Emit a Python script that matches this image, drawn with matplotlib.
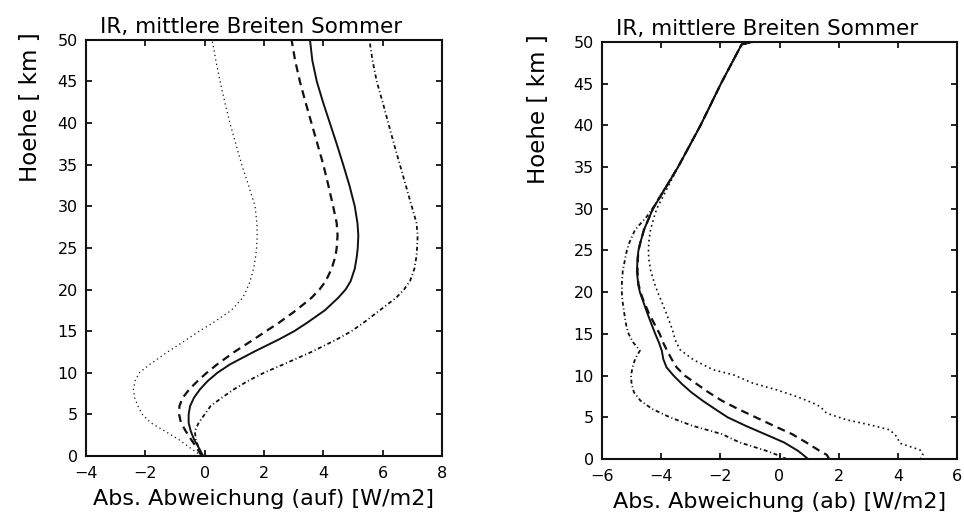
import numpy as np
import matplotlib.pyplot as plt

plt.rcParams["font.family"] = "DejaVu Sans"
plt.rcParams["font.size"] = 11.5
plt.rcParams["axes.linewidth"] = 1.5

titel = "IR, mittlere Breiten Sommer"
y_label = "Hoehe [ km ]"
x_label_auf = "Abs. Abweichung (auf) [W/m2]"
x_label_ab = "Abs. Abweichung (ab) [W/m2]"

# --- upward flux deviations [W/m2] vs height [km]
hoehe_auf = [0, 1, 2, 3, 4, 5, 6, 7, 8, 9, 10, 11, 12.5, 14, 15, 16, 17.5, 19, 20, 21, 22.5,
             24, 25, 26.5, 28, 30, 32.5, 35, 37.5, 40, 42.5, 45, 47.5, 50]
auf_punkt = [-0.1, -0.5, -0.88, -1.35, -1.82, -2.1, -2.25, -2.36, -2.4, -2.35, -2.2, -1.85,
             -1.25, -0.6, -0.18, 0.28, 0.9, 1.28, 1.42, 1.53, 1.65, 1.72, 1.75, 1.77, 1.76,
             1.7, 1.48, 1.25, 1.05, 0.85, 0.68, 0.52, 0.38, 0.25]
auf_strich = [-0.1, -0.27, -0.46, -0.64, -0.8, -0.86, -0.85, -0.74, -0.52, -0.24, 0.07, 0.42,
              1.0, 1.65, 2.07, 2.5, 3.08, 3.6, 3.87, 4.08, 4.28, 4.41, 4.45, 4.48, 4.45,
              4.33, 4.17, 4.0, 3.8, 3.6, 3.4, 3.21, 3.05, 2.93]
auf_voll = [-0.05, -0.2, -0.36, -0.47, -0.54, -0.54, -0.49, -0.36, -0.16, 0.1, 0.43, 0.85,
            1.65, 2.5, 3.02, 3.45, 4.05, 4.5, 4.75, 4.92, 5.06, 5.13, 5.16, 5.18, 5.15,
            5.06, 4.88, 4.67, 4.45, 4.22, 3.99, 3.78, 3.63, 3.55]
auf_strichpunkt = [-0.08, -0.2, -0.3, -0.33, -0.2, 0.0, 0.2, 0.58, 0.98, 1.45, 2.0, 2.65,
                   3.6, 4.45, 4.95, 5.35, 5.9, 6.45, 6.72, 6.92, 7.07, 7.14, 7.16, 7.18,
                   7.14, 6.98, 6.78, 6.58, 6.38, 6.19, 6.0, 5.8, 5.66, 5.55]

# --- downward flux deviations: curves merge above ~30 km
hoehe_oben = [35, 40, 45, 49.7, 50]
ab_oben = [-3.43, -2.67, -1.98, -1.28, -0.9]

hoehe_ab = [0, 0.5, 1, 2, 3, 4, 5, 6, 7, 8, 9, 10, 11, 12, 13, 14, 15, 16, 17.5, 19, 20, 21,
            22.5, 24, 25, 26, 27.5, 29, 30]
ab_strichpunkt = [0.25, -0.08, -0.45, -1.35, -1.95, -2.95, -3.7, -4.3, -4.7, -4.92, -5.0,
                  -5.02, -4.97, -4.88, -4.72, -4.95, -5.1, -5.18, -5.25, -5.31, -5.33, -5.33,
                  -5.3, -5.22, -5.16, -5.07, -4.88, -4.5, -4.3]
ab_voll = [0.97, 0.8, 0.62, 0.15, -0.5, -1.15, -1.75, -2.18, -2.6, -2.98, -3.3, -3.58, -3.82,
           -3.93, -3.98, -4.08, -4.2, -4.31, -4.47, -4.62, -4.72, -4.78, -4.82, -4.8, -4.77,
           -4.7, -4.58, -4.4, -4.28]
ab_strich = [1.68, 1.6, 1.35, 0.9, 0.42, -0.2, -0.8, -1.4, -1.95, -2.4, -2.8, -3.2, -3.48,
             -3.65, -3.8, -3.94, -4.05, -4.2, -4.42, -4.6, -4.7, -4.77, -4.8, -4.79, -4.77,
             -4.7, -4.58, -4.4, -4.28]

hoehe_ab_punkt = [0, 0.5, 1.1, 1.9, 2.7, 3.5, 4.1, 4.7, 5.5, 6.3, 6.7, 7.5, 8.3, 9.1, 10.1,
                  10.7, 11.9, 13.1, 14.3, 15.5, 17.5, 19, 20, 21, 22.5, 24, 25, 26, 27.5,
                  29, 30]
ab_punkt = [4.75, 4.85, 4.75, 4.07, 3.96, 3.73, 3.06, 2.27, 1.59, 1.37, 1.14, 0.58, -0.1,
            -0.9, -1.56, -2.24, -2.91, -3.36, -3.53, -3.62, -3.83, -4.0, -4.12, -4.22,
            -4.35, -4.42, -4.43, -4.42, -4.36, -4.24, -4.15]


def mit_oben(h, x):
    return np.array(list(x) + ab_oben), np.array(list(h) + hoehe_oben)


fig = plt.figure(figsize=(9.64, 5.17), dpi=100)
ax_auf = fig.add_axes([0.0892, 0.118, 0.3693, 0.805])
ax_ab = fig.add_axes([0.6245, 0.112, 0.3683, 0.807])

k = "#111111"

# left panel
ax_auf.plot(auf_punkt, hoehe_auf, color=k, lw=0.9, dashes=[1, 2.6])
ax_auf.plot(auf_strich, hoehe_auf, color=k, lw=1.6, dashes=[3.6, 2.4])
ax_auf.plot(auf_voll, hoehe_auf, color=k, lw=1.4)
ax_auf.plot(auf_strichpunkt, hoehe_auf, color=k, lw=1.3, dashes=[2.2, 1.5, 0.6, 1.5])

# right panel
x, h = mit_oben(hoehe_ab_punkt, ab_punkt)
ax_ab.plot(x, h, color=k, lw=1.2, dashes=[1, 2])
x, h = mit_oben(hoehe_ab, ab_strich)
ax_ab.plot(x, h, color=k, lw=1.6, dashes=[3.6, 2.4])
x, h = mit_oben(hoehe_ab, ab_voll)
ax_ab.plot(x, h, color=k, lw=1.4)
x, h = mit_oben(hoehe_ab, ab_strichpunkt)
ax_ab.plot(x, h, color=k, lw=1.3, dashes=[2.2, 1.5, 0.6, 1.5])

for ax, xlim, xlabel, ylx in [(ax_auf, (-4, 8), x_label_auf, -0.124),
                              (ax_ab, (-6, 6), x_label_ab, -0.146)]:
    ax.set_xlim(*xlim)
    ax.set_ylim(0, 50)
    ax.set_xticks(np.arange(xlim[0], xlim[1] + 1, 2))
    ax.set_yticks(np.arange(0, 51, 5))
    ax.tick_params(direction="in", length=4, width=1.2, top=True, right=True,
                   labelsize=11.5, pad=7)
    ax.tick_params(axis="y", pad=6)
    for s in ax.spines.values():
        s.set_color(k)
    ax.set_title(titel, fontsize=15.5, x=0.465, pad=5)
    ax.set_xlabel(xlabel, fontsize=16, labelpad=6)
    ax.set_ylabel(y_label, fontsize=16.5, loc="top")
    ax.yaxis.set_label_coords(ylx, 1.018)

fig.savefig("out.png", dpi=100, facecolor="white")
